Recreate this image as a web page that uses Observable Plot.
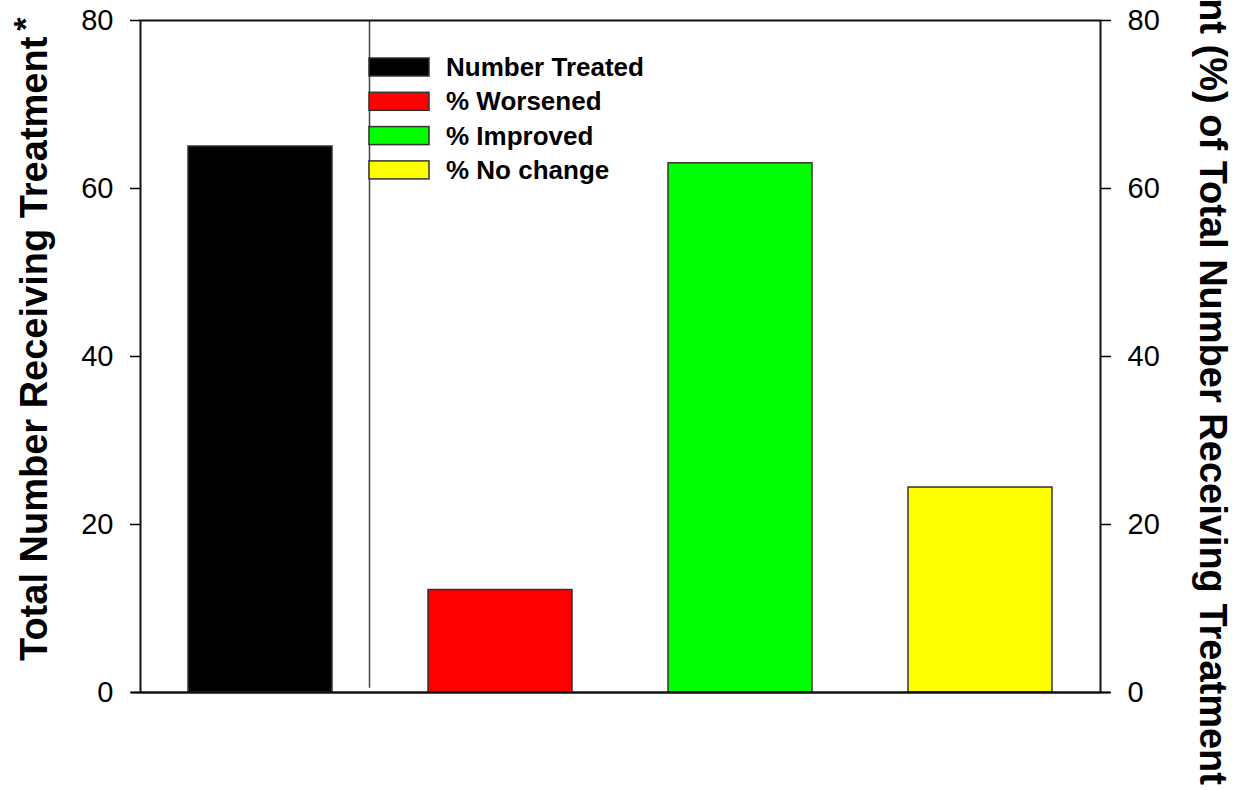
<!DOCTYPE html>
<html>
<head>
<meta charset="utf-8">
<script src="https://cdn.jsdelivr.net/npm/d3@7"></script>
<script src="https://cdn.jsdelivr.net/npm/@observablehq/plot@0.6"></script>
<style>
  html, body { margin: 0; padding: 0; background: #fff; }
  #chart { position: relative; width: 1246px; height: 790px; overflow: hidden; }
</style>
</head>
<body>
<div id="chart"></div>
<script>
const categories = ["Number Treated", "% Worsened", "% Improved", "% No change"];
const values = [65, 12.2, 63, 24.4];
const colors = ["#000000", "#ff0000", "#00ff00", "#ffff00"];
const yTicks = [0, 20, 40, 60, 80];
const leftTitle = "Total Number Receiving Treatment";
const rightTitle = "Percent (%) of Total Number Receiving Treatment";

const data = categories.map((c, i) => ({cat: c, value: values[i]}));
const FONT = "'Liberation Sans', Arial, Helvetica, sans-serif";

const svg = Plot.plot({
  width: 1246,
  height: 790,
  marginLeft: 140,
  marginRight: 146,
  marginTop: 20,
  marginBottom: 98,
  style: {fontFamily: FONT, fontSize: "29px", background: "#fff", color: "#000"},
  x: {domain: categories, paddingInner: 0.4, paddingOuter: 0.2, axis: null},
  y: {domain: [0, 80]},
  color: {domain: categories, range: colors},
  marks: [
    Plot.barY(data, {x: "cat", y: "value", fill: "cat", stroke: "#333", strokeWidth: 1.5}),
    Plot.ruleX([categories[0]], {dx: 109, y1: 0.5, y2: 80, stroke: "#444", strokeWidth: 1.5}),
    Plot.frame({stroke: "#111", strokeWidth: 2}),
    Plot.ruleY([0], {insetLeft: -9, insetRight: -10, stroke: "#111", strokeWidth: 2}),
    Plot.axisY(yTicks, {anchor: "left", tickSize: 10, tickPadding: 17, label: null, fontSize: 29, strokeWidth: 1.5}),
    Plot.axisY(yTicks, {anchor: "right", tickSize: 10, tickPadding: 17, label: null, fontSize: 29, strokeWidth: 1.5})
  ]
});
document.getElementById("chart").appendChild(svg);

const s = d3.select(svg);

// Left axis title
const lt = s.append("text")
  .attr("transform", "translate(47,661) rotate(-90)")
  .attr("text-anchor", "start")
  .attr("font-family", FONT)
  .attr("font-weight", "bold")
  .attr("font-size", 38)
  .attr("fill", "#000")
  .text(leftTitle);
const len = lt.node().getComputedTextLength();
// superscript asterisk
s.append("text")
  .attr("transform", `translate(${47 - 10},${661 - len - 6}) rotate(-90)`)
  .attr("text-anchor", "start")
  .attr("font-family", FONT)
  .attr("font-weight", "bold")
  .attr("font-size", 34)
  .attr("fill", "#000")
  .text("*");

// Right axis title (clipped at top as in reference)
s.append("text")
  .attr("transform", "translate(1200,785) rotate(90)")
  .attr("text-anchor", "end")
  .attr("font-family", FONT)
  .attr("font-weight", "bold")
  .attr("font-size", 38)
  .attr("fill", "#000")
  .text(rightTitle);

// Legend inside plot
const lg = s.append("g")
  .attr("font-family", FONT)
  .attr("font-weight", "bold")
  .attr("font-size", 26)
  .attr("text-anchor", "start");
categories.forEach((c, i) => {
  const y0 = 58 + i * 34.3;
  lg.append("rect").attr("x", 369).attr("y", y0).attr("width", 60).attr("height", 18)
    .attr("fill", colors[i]).attr("stroke", "#333").attr("stroke-width", 1.5);
  lg.append("text").attr("x", 446).attr("y", y0 + 18).attr("fill", "#000").text(c);
});
</script>
</body>
</html>
